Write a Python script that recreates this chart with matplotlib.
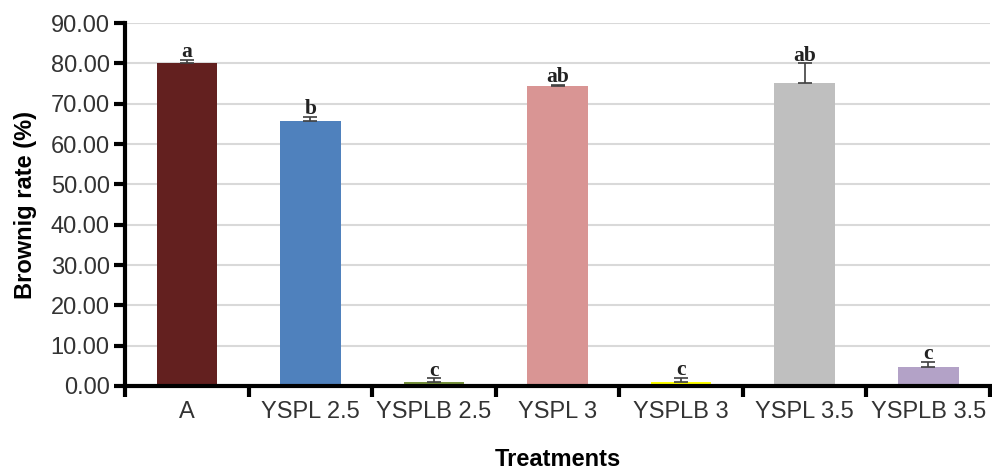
import matplotlib
matplotlib.use("Agg")
import matplotlib.pyplot as plt
import numpy as np

# data
treatments = ["A", "YSPL 2.5", "YSPLB 2.5", "YSPL 3", "YSPLB 3", "YSPL 3.5", "YSPLB 3.5"]
browning = [80.1, 65.8, 1.0, 74.4, 1.1, 75.2, 4.8]
errors = [0.8, 1.0, 0.9, 0.3, 0.9, 4.8, 1.2]
letters = ["a", "b", "c", "ab", "c", "ab", "c"]
y_ticks = [0, 10, 20, 30, 40, 50, 60, 70, 80, 90]

colors = ["#63201F", "#4F81BD", "#77933C", "#D99594", "#FFFF00", "#BFBFBF", "#B3A2C7"]

plt.rcParams["font.family"] = ["Liberation Sans", "DejaVu Sans"]

fig = plt.figure(figsize=(9.92, 4.73), dpi=100)
ax = fig.add_axes([0.126, 0.184, 0.872, 0.767])

x = np.arange(len(treatments))
ax.bar(x, browning, width=0.49, color=colors, zorder=2)
ax.errorbar(x, browning, yerr=[np.zeros(len(errors)), errors], fmt="none",
            ecolor="#404040", elinewidth=1.2, capsize=5, capthick=1.2, zorder=3)

# significance letters sit right on the error cap
for xi, v, e, lab in zip(x, browning, errors, letters):
    ax.text(xi, v + e - 0.6, lab, ha="center", va="bottom", fontsize=15.5,
            fontweight="bold", family=["Liberation Serif", "DejaVu Serif"], color="#222222",
            zorder=4)

ax.set_xlim(-0.5, len(treatments) - 0.5)
ax.set_ylim(0, 90)
ax.set_yticks(y_ticks)
ax.set_yticklabels([f"{t:.2f}" for t in y_ticks])

# ticks at category boundaries, labels at centres
ax.set_xticks(np.arange(-0.5, len(treatments)), minor=False)
ax.set_xticklabels([])
ax.set_xticks(x, minor=True)
ax.set_xticklabels(treatments, minor=True)
ax.tick_params(axis="x", which="major", direction="out", length=8, width=3, color="black")
ax.tick_params(axis="x", which="minor", length=0, pad=11, labelsize=17, labelcolor="#333333")
ax.tick_params(axis="y", direction="out", length=8, width=3, pad=3, labelsize=17, labelcolor="#333333")

ax.yaxis.grid(True, color="#D9D9D9", linewidth=1.5, zorder=0)
ax.set_axisbelow(True)

for s in ["top", "right"]:
    ax.spines[s].set_visible(False)
for s in ["left", "bottom"]:
    ax.spines[s].set_linewidth(3)
    ax.spines[s].set_color("black")

ax.set_ylabel("Brownig rate (%)", fontsize=17, fontweight="bold", labelpad=10)
ax.set_xlabel("Treatments", fontsize=17, fontweight="bold", labelpad=18)

fig.savefig("out.png", dpi=100)
